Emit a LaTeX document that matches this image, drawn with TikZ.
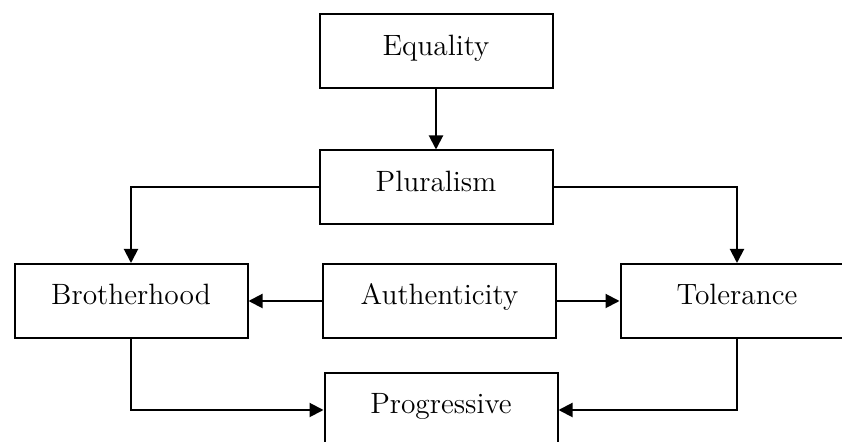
\documentclass[tikz,border=0pt]{standalone}
\usepackage{tikz}
\usetikzlibrary{arrows.meta}

\begin{document}
\begin{tikzpicture}[
            > = {Triangle[length=7pt,width=7pt]}, % arrow head style
            valuebox/.style = {draw, line width=1pt, minimum width=116.5pt,
                minimum height=37pt, text height=10.5pt, text depth=6.5pt,
                font=\fontsize{14.7}{17}\selectfont},
            link/.style = {->, line width=1pt}
        ]

	\useasboundingbox (0,0) rectangle (421pt,-221pt);

	\node[valuebox] (equality) at (218pt,-25.75pt) {Equality};
	\node[valuebox] (pluralism) [below of=equality, node distance=68pt] {Pluralism};
	\node[valuebox] (authenticity) [below of=pluralism, node distance=56.75pt, xshift=1.75pt] {Authenticity};
	\node[valuebox] (brotherhood) [left of=authenticity, node distance=154.25pt] {Brotherhood};
	\node[valuebox] (tolerance) [right of=authenticity, node distance=148.75pt] {Tolerance};
	\node[valuebox] (progressive) [below of=authenticity, node distance=54.5pt, xshift=0.75pt] {Progressive};

	\draw[link] (equality) -- (pluralism);
	\draw[link] (pluralism.west) -| (brotherhood.north);
	\draw[link] (pluralism.east) -| (tolerance.north);
	\draw[link] (authenticity) -- (brotherhood);
	\draw[link] (authenticity) -- (tolerance);
	\draw[link] (brotherhood.south) |- (progressive.west);
	\draw[link] (tolerance.south) |- (progressive.east);

\end{tikzpicture}
\end{document}
